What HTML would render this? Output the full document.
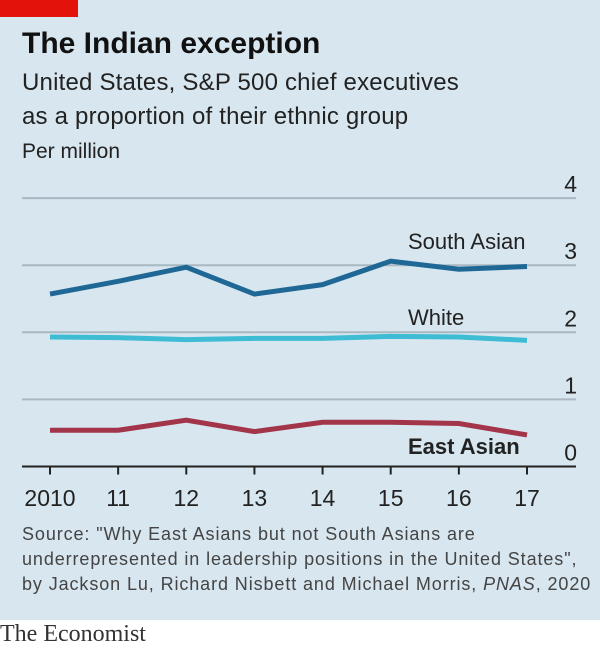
<!DOCTYPE html>
<html><head><meta charset="utf-8"><style>
body{margin:0;width:600px;height:653px;overflow:hidden;background:#fff;font-family:"Liberation Sans",sans-serif}
#panel{position:absolute;left:0;top:0;width:600px;height:620px;background:#d7e6ef}
.t{position:absolute;white-space:nowrap;color:#222}
</style></head><body>
<div id="panel"></div>
<div style="position:absolute;left:0;top:0;width:78px;height:17px;background:#e3120b"></div>
<div class="t" style="left:22px;top:27px;font-size:30px;font-weight:bold;color:#111">The Indian exception</div>
<div class="t" style="left:22px;top:66px;font-size:24px;letter-spacing:0.2px;line-height:34px">United States, S&amp;P 500 chief executives<br>as a proportion of their ethnic group</div>
<div class="t" style="left:22px;top:140px;font-size:21px">Per million</div>
<svg id="c" width="600" height="520" style="position:absolute;left:0;top:0"></svg>
<div class="t" style="left:22px;top:522px;font-size:18px;letter-spacing:0.9px;line-height:25px;color:#444">Source: "Why East Asians but not South Asians are<br>underrepresented in leadership positions in the United States",<br>by Jackson Lu, Richard Nisbett and Michael Morris, <i>PNAS</i>, 2020</div>
<div class="t" style="left:0;top:621px;font-family:'Liberation Serif',serif;font-size:24px;color:#333">The Economist</div>
<script>
const years=["2010","11","12","13","14","15","16","17"];
const yTicks=[0,1,2,3,4];
const southAsian=[2.57,2.76,2.97,2.57,2.71,3.06,2.94,2.98];
const white=[1.93,1.92,1.89,1.91,1.91,1.94,1.93,1.88];
const eastAsian=[0.54,0.54,0.69,0.52,0.66,0.66,0.64,0.47];
const svg=document.getElementById('c'),NS="http://www.w3.org/2000/svg";
const x=i=>50+i*(527-50)/(years.length-1);
const y=v=>466.5-v*67.1;
function mk(t,a){const e=document.createElementNS(NS,t);for(const k in a)e.setAttribute(k,a[k]);svg.appendChild(e);return e;}
yTicks.forEach(v=>{
 if(v>0){const g=mk('line',{x1:22,x2:576,y1:y(v),y2:y(v),stroke:'#a9b8c2','stroke-width':2});
 
 }
 const t=mk('text',{x:577,y:y(v)-6,'text-anchor':'end','font-size':23,fill:'#222','font-family':'Liberation Sans'});t.textContent=v;
 
 
});
const ax=mk('line',{x1:22,x2:576,y1:y(0),y2:y(0),stroke:'#222','stroke-width':2});


years.forEach((yr,i)=>{
 const tk=mk('line',{x1:x(i),x2:x(i),y1:y(0),y2:y(0)+8,stroke:'#222','stroke-width':2});
 
 
 const t=mk('text',{x:x(i),y:506,'text-anchor':'middle','font-size':23,fill:'#222','font-family':'Liberation Sans'});t.textContent=yr;
 
 
});
[[southAsian,'#1f6896','south-asian-line'],[white,'#3dbcd3','white-line'],[eastAsian,'#a3354b','east-asian-line']].forEach(([d,c,n])=>{
 const p=mk('polyline',{points:d.map((v,i)=>x(i)+','+y(v)).join(' '),fill:'none',stroke:c,'stroke-width':5,'stroke-linejoin':'miter'});
 
 
});
[['South Asian',408,249,'normal','south-asian-label'],['White',408,325,'normal','white-label'],['East Asian',408,454,'bold','east-asian-label']].forEach(([s,lx,ly,w,n])=>{
 const t=mk('text',{x:lx,y:ly,'font-size':22,fill:'#222','font-weight':w,'font-family':'Liberation Sans'});t.textContent=s;
 
 
});
</script>
</body></html>
